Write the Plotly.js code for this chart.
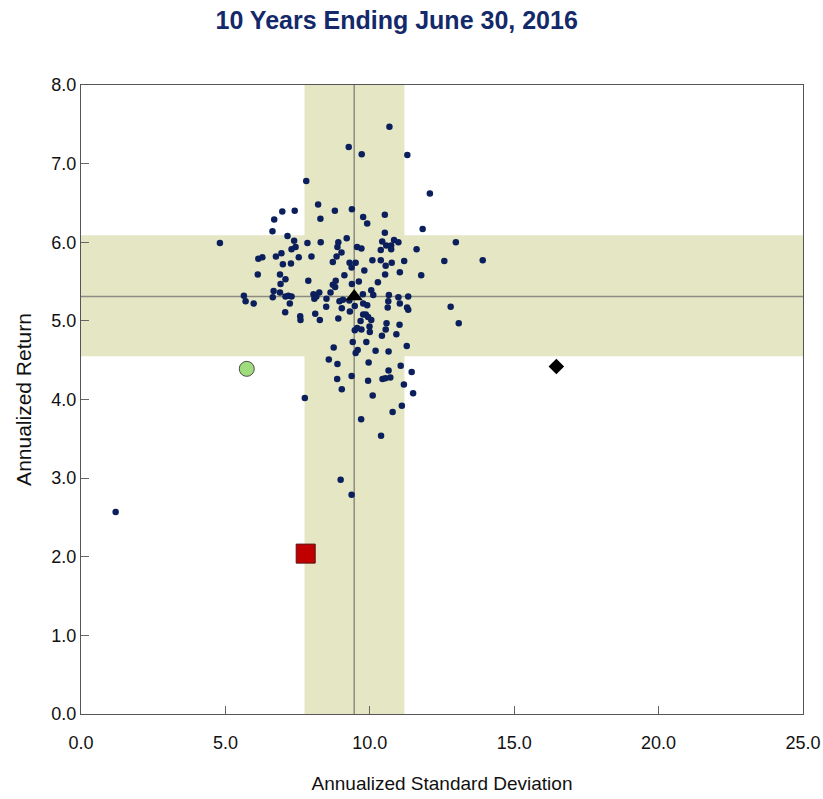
<!DOCTYPE html>
<html>
<head>
<meta charset="utf-8">
<script src="https://cdn.plot.ly/plotly-3.0.1.min.js"></script>
<style>html,body{margin:0;padding:0;background:#fff;}#chart{width:823px;height:799px;}</style>
</head>
<body>
<div id="chart"></div>
<script>
// Universe (peer) points: annualized standard deviation / annualized return
const peerStdDev = [9.27,7.80,8.21,8.79,6.97,7.40,6.69,8.29,6.63,7.15,9.20,4.81,7.38,7.84,8.30,8.91,7.29,7.43,8.88,9.02,6.28,6.14,6.75,6.94,7.54,7.98,8.85,
10.68,9.72,11.30,12.08,9.38,9.77,10.52,9.91,10.52,11.83,10.43,10.84,10.99,9.56,9.71,10.57,10.74,10.38,10.74,11.62,12.98,10.09,10.38,11.19,12.58,13.91,
6.99,7.27,8.72,9.30,6.12,6.89,7.08,6.91,7.87,8.82,8.72,8.80,9.12,5.64,5.70,5.98,6.67,6.64,6.89,7.08,7.18,7.29,7.23,8.05,8.25,8.08,8.15,8.50,8.64,8.95,9.07,8.49,9.03,9.29,7.07,7.59,7.60,8.11,8.27,8.91,8.75,8.58,8.88,8.87,9.03,7.75,
9.51,9.37,10.55,10.76,9.81,10.53,11.04,11.78,9.62,9.38,10.28,10.05,10.12,9.76,10.66,10.99,11.33,10.64,11.04,9.77,9.91,9.31,9.48,10.62,11.29,11.33,12.80,13.08,9.77,9.86,9.94,10.05,9.68,9.99,10.58,11.03,9.48,9.56,9.71,10.00,10.55,10.42,10.92,9.41,9.88,11.28,9.51,9.58,10.20,10.65,9.96,11.07,10.65,11.45,9.37,10.44,10.54,10.71,9.94,11.18,11.50,10.10,
11.11,10.79,9.70,10.39,8.99,9.37,1.20];
const peerReturn = [7.21,6.78,6.48,6.40,6.39,6.40,6.29,6.30,6.14,6.08,6.05,5.99,6.02,5.99,6.00,6.00,5.91,5.94,5.94,5.87,5.81,5.79,5.82,5.86,5.81,5.82,5.82,
7.47,7.12,7.11,6.62,6.42,6.32,6.35,6.24,6.12,6.17,6.01,6.03,6.00,5.94,5.92,5.96,5.96,5.90,5.91,5.91,6.00,5.77,5.77,5.76,5.76,5.77,
5.72,5.73,5.75,5.74,5.59,5.59,5.53,5.47,5.51,5.51,5.46,5.43,5.58,5.32,5.25,5.22,5.38,5.30,5.36,5.31,5.32,5.31,5.22,5.34,5.36,5.28,5.31,5.28,5.36,5.25,5.27,5.18,5.16,5.26,5.11,5.06,5.01,5.09,5.01,5.03,4.66,4.51,4.45,4.26,4.13,4.02,
5.74,5.68,5.70,5.74,5.64,5.59,5.62,5.58,5.50,5.47,5.49,5.39,5.33,5.34,5.33,5.30,5.31,5.25,5.22,5.22,5.20,5.12,5.19,5.17,5.17,5.14,5.18,4.97,5.08,5.08,5.05,5.01,5.00,4.93,4.97,4.95,4.88,4.91,4.89,4.86,4.89,4.81,4.83,4.73,4.73,4.68,4.59,4.63,4.62,4.61,4.47,4.43,4.37,4.35,4.30,4.26,4.27,4.28,4.24,4.19,4.08,4.05,
3.92,3.84,3.75,3.54,2.98,2.79,2.57];

// Highlighted points
const medianPoint = {x: [9.46], y: [5.31]};      // triangle
const circlePoint = {x: [5.74], y: [4.39]};      // green circle
const diamondPoint = {x: [16.46], y: [4.42]};    // black diamond
const squarePoint = {x: [7.78], y: [2.04]};      // red square

// Median lines and interquartile bands
const medianStdDev = 9.46;
const medianReturn = 5.31;
const stdDevBand = [7.74, 11.20];
const returnBand = [4.55, 6.09];

// Axis ticks
const xTicks = [0, 5, 10, 15, 20, 25];
const yTicks = [0, 1, 2, 3, 4, 5, 6, 7, 8];

const bandColor = 'rgb(229,230,196)';
const lineColor = 'rgb(140,140,128)';

const traces = [
  {x: peerStdDev, y: peerReturn, mode: 'markers', type: 'scatter',
   marker: {color: '#0b1f5c', size: 6.5}, hoverinfo: 'x+y'},
  {x: circlePoint.x, y: circlePoint.y, mode: 'markers', type: 'scatter',
   marker: {color: '#9fdc7c', size: 15, line: {color: '#4d4d4d', width: 1}}},
  {x: diamondPoint.x, y: diamondPoint.y, mode: 'markers', type: 'scatter',
   marker: {color: '#000000', size: 12, symbol: 'diamond'}},
  {x: squarePoint.x, y: squarePoint.y, mode: 'markers', type: 'scatter',
   marker: {color: '#c00000', size: 19, symbol: 'square', line: {color: '#5a1010', width: 1}}},
  {x: medianPoint.x, y: medianPoint.y, mode: 'markers', type: 'scatter',
   marker: {color: '#000000', size: 15, symbol: 'triangle-up'}}
];

const fontFam = '"Liberation Sans", Arial, sans-serif';

const layout = {
  width: 823, height: 799,
  margin: {l: 81, r: 20, t: 85, b: 85},
  paper_bgcolor: '#ffffff', plot_bgcolor: '#ffffff',
  showlegend: false,
  title: {text: '<b>10 Years Ending June 30, 2016</b>', x: 0.482, xanchor: 'center', y: 0.975, yanchor: 'middle',
          font: {family: fontFam, size: 25, color: '#14296a'}},
  xaxis: {range: [0, 25], tickvals: xTicks, tickformat: '.1f', ticks: 'inside', ticklen: 8, tickcolor: '#666',
          showgrid: false, zeroline: false, showline: true, linecolor: '#555', linewidth: 1, mirror: true,
          ticklabelstandoff: 12,
          tickfont: {family: fontFam, size: 18, color: '#111'},
          title: {text: 'Annualized Standard Deviation', font: {family: fontFam, size: 19, color: '#111'}, standoff: 25}},
  yaxis: {range: [0, 8], tickvals: yTicks, tickformat: '.1f', ticks: 'inside', ticklen: 8, tickcolor: '#666',
          showgrid: false, zeroline: false, showline: true, linecolor: '#555', linewidth: 1, mirror: true,
          tickfont: {family: fontFam, size: 18, color: '#111'},
          title: {text: 'Annualized Return', font: {family: fontFam, size: 21, color: '#111'}, standoff: 14}},
  shapes: [
    {type: 'rect', xref: 'x', yref: 'y', x0: stdDevBand[0], x1: stdDevBand[1], y0: 0, y1: 8,
     fillcolor: bandColor, line: {width: 0}, layer: 'below'},
    {type: 'rect', xref: 'x', yref: 'y', x0: 0, x1: 25, y0: returnBand[0], y1: returnBand[1],
     fillcolor: bandColor, line: {width: 0}, layer: 'below'},
    {type: 'line', xref: 'x', yref: 'y', x0: medianStdDev, x1: medianStdDev, y0: 0, y1: 8,
     line: {color: lineColor, width: 1.5}, layer: 'below'},
    {type: 'line', xref: 'x', yref: 'y', x0: 0, x1: 25, y0: medianReturn, y1: medianReturn,
     line: {color: lineColor, width: 1.5}, layer: 'below'}
  ]
};

Plotly.newPlot('chart', traces, layout, {displayModeBar: false, staticPlot: true});
</script>
</body>
</html>
